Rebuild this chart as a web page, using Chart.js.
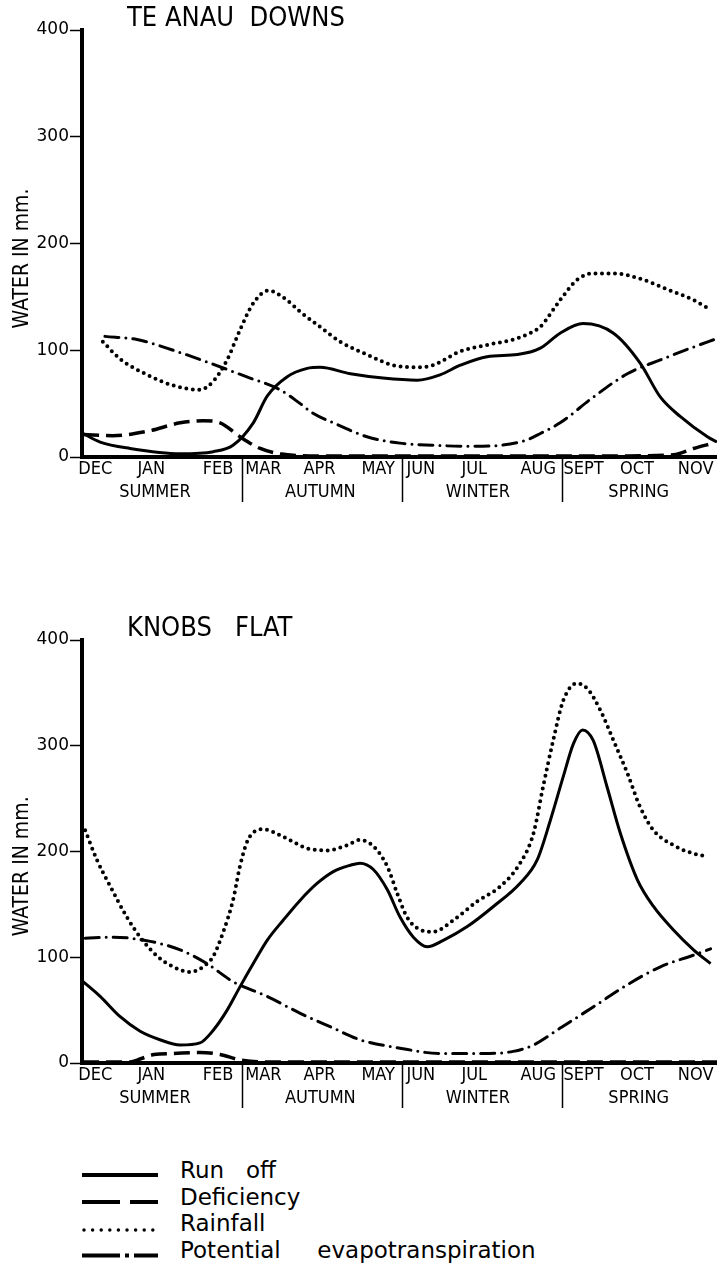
<!DOCTYPE html>
<html>
<head>
<meta charset="utf-8">
<script src="https://cdn.jsdelivr.net/npm/chart.js@4/dist/chart.umd.min.js"></script>
<style>
  body { margin: 0; background: #fff; }
  #page { position: relative; width: 717px; height: 1267px; overflow: hidden; background: #fff; }
  .box { position: absolute; left: 0; width: 717px; }
  #topBox { top: 0; height: 505px; }
  #bottomBox { top: 610px; height: 501px; }
  #legend { position: absolute; left: 80px; top: 1157px; font-family: "DejaVu Sans"; font-size: 23px; color: #000; }
  .row { display: flex; align-items: center; height: 26.5px; white-space: pre; }
  .row svg { margin-right: 20px; }
</style>
</head>
<body>
<div id="page">
  <div class="box" id="topBox"><canvas id="teAnau"></canvas></div>
  <div class="box" id="bottomBox"><canvas id="knobsFlat"></canvas></div>
  <div id="legend">
    <div class="row"><svg width="80" height="26"><line x1="2" y1="18" x2="78" y2="18" stroke="#000" stroke-width="4"/></svg>Run   off</div>
    <div class="row"><svg width="80" height="26"><line x1="2" y1="18" x2="78" y2="18" stroke="#000" stroke-width="4" stroke-dasharray="38 10 40"/></svg>Deficiency</div>
    <div class="row"><svg width="80" height="26"><line x1="4" y1="20" x2="78" y2="20" stroke="#000" stroke-width="3.5" stroke-linecap="round" stroke-dasharray="0 8.6"/></svg>Rainfall</div>
    <div class="row"><svg width="80" height="26"><line x1="2" y1="18.5" x2="78" y2="18.5" stroke="#000" stroke-width="4" stroke-dasharray="38 5 4 5 40"/></svg>Potential     evapotranspiration</div>
  </div>
</div>
<script>
// Axis labels (x values are in months from the start of December)
let months = ['DEC', 'JAN', 'FEB', 'MAR', 'APR', 'MAY', 'JUN', 'JUL', 'AUG', 'SEPT', 'OCT', 'NOV'];
let monthAt = [0.25, 1.3, 2.55, 3.4, 4.45, 5.55, 6.35, 7.35, 8.55, 9.4, 10.4, 11.5];
let seasons = ['SUMMER', 'AUTUMN', 'WINTER', 'SPRING'];
let seasonBreaks = [3, 6, 9];

// Te Anau Downs
let teRunoffX  = [0.02, 0.34, 0.9, 1.84, 2.46, 2.83, 3.21, 3.47, 3.84, 4.22, 4.46, 5.03, 5.64, 6.28, 6.71, 7.09, 7.59, 8.16, 8.59, 8.96, 9.39, 9.96, 10.46, 10.84, 11.21, 11.72, 11.9];
let teRunoffY  = [22, 14, 8, 3, 5, 11, 32, 57, 75, 83, 84, 78, 74, 72, 77, 86, 94, 96, 102, 116, 125, 116, 88, 56, 38, 19, 14];
let teDeficitX = [0.02, 0.58, 1.22, 1.84, 2.27, 2.59, 2.96, 3.34, 3.71, 4.5, 6, 8, 10, 11.08, 11.46, 11.83];
let teDeficitY = [21, 20, 24, 32, 34, 32, 19, 8, 3, 1, 1, 1, 1, 2, 8, 13];
let teRainX    = [0.39, 0.71, 1.22, 1.71, 2.21, 2.46, 2.72, 2.96, 3.21, 3.49, 3.84, 4.09, 4.46, 4.84, 5.34, 5.83, 6.34, 6.58, 7.09, 7.59, 8.08, 8.4, 8.59, 8.96, 9.28, 9.58, 9.96, 10.52, 10.97, 11.46, 11.74];
let teRainY    = [108, 92, 77, 67, 63, 71, 91, 119, 144, 156, 147, 136, 122, 108, 96, 86, 84, 86, 99, 105, 110, 116, 122, 147, 166, 172, 172, 166, 157, 147, 139];
let tePetX     = [0.43, 1.03, 1.71, 2.34, 3.09, 3.71, 4.09, 4.33, 4.71, 5.34, 5.96, 6.58, 7.22, 7.84, 8.34, 8.59, 8.96, 9.58, 10.22, 10.84, 11.46, 11.9];
let tePetY     = [113, 110, 100, 89, 75, 63, 50, 41, 32, 19, 13, 11, 10, 11, 16, 22, 32, 56, 78, 91, 103, 111];

// Knobs Flat
let kfRunoffX  = [0.02, 0.34, 0.71, 1.09, 1.46, 1.84, 2.21, 2.46, 2.72, 2.96, 3.21, 3.47, 3.77, 4.09, 4.41, 4.71, 5.03, 5.21, 5.46, 5.72, 5.96, 6.21, 6.47, 6.77, 7.22, 7.71, 8.21, 8.53, 8.78, 9.02, 9.21, 9.38, 9.58, 9.84, 10.09, 10.41, 10.71, 11.08, 11.46, 11.78];
let kfRunoffY  = [77, 63, 44, 30, 22, 17, 19, 31, 50, 72, 94, 116, 135, 154, 170, 181, 187, 189, 183, 164, 138, 119, 110, 116, 129, 148, 170, 192, 230, 271, 302, 315, 305, 261, 217, 173, 148, 126, 107, 94];
let kfDeficitX = [0.02, 0.9, 1.1, 1.35, 1.71, 2.21, 2.59, 2.96, 3.4, 6, 9, 11.9];
let kfDeficitY = [1, 1, 4, 8, 9, 10, 8, 3, 1, 1, 1, 1];
let kfRainX    = [0.06, 0.28, 0.53, 0.84, 1.09, 1.41, 1.71, 2.03, 2.27, 2.46, 2.64, 2.83, 2.96, 3.11, 3.39, 3.77, 4.22, 4.59, 4.97, 5.21, 5.46, 5.72, 5.91, 6.09, 6.34, 6.58, 6.96, 7.41, 7.84, 8.21, 8.46, 8.64, 8.83, 9.02, 9.28, 9.47, 9.71, 9.96, 10.22, 10.46, 10.71, 11.08, 11.46, 11.74];
let kfRainY    = [220, 192, 167, 138, 119, 101, 91, 86, 91, 101, 123, 154, 186, 211, 221, 214, 203, 201, 206, 211, 205, 186, 160, 138, 126, 124, 135, 153, 167, 189, 217, 261, 305, 343, 359, 354, 334, 305, 274, 242, 220, 206, 198, 195];
let kfPetX     = [0.06, 0.58, 1.28, 1.84, 2.34, 2.83, 3.47, 4.09, 4.71, 5.21, 5.96, 6.71, 7.52, 8.08, 8.46, 8.96, 9.58, 10.22, 10.84, 11.46, 11.78];
let kfPetY     = [118, 119, 115, 107, 94, 77, 63, 47, 33, 22, 14, 9, 9, 11, 17, 33, 53, 74, 91, 102, 108];

const points = (xs, ys) => xs.map((x, i) => ({x: x, y: ys[i]}));

// station name, y title, season row and separators
const decorations = {
    id: 'decorations',
    afterDraw(chart, args, opts) {
        const ctx = chart.ctx;
        const area = chart.chartArea;
        const xs = chart.scales.x;
        ctx.save();
        ctx.fillStyle = '#000';
        ctx.strokeStyle = '#000';
        ctx.textBaseline = 'middle';

        ctx.font = '27px "DejaVu Sans Condensed"';
        ctx.textAlign = 'left';
        ctx.fillText(opts.station, area.left + 45, area.top - 11);

        ctx.save();
        ctx.translate(23, area.top + area.height * 0.535);
        ctx.rotate(-Math.PI / 2);
        ctx.textAlign = 'center';
        ctx.font = '21px "DejaVu Sans Condensed"';
        ctx.fillText('WATER IN mm.', 0, 0);
        ctx.restore();

        ctx.lineWidth = 1.5;
        seasonBreaks.forEach(v => {
            const px = Math.round(xs.getPixelForValue(v)) + 0.5;
            ctx.beginPath();
            ctx.moveTo(px, area.bottom);
            ctx.lineTo(px, area.bottom + 45);
            ctx.stroke();
        });

        ctx.font = '18px "DejaVu Sans Condensed"';
        ctx.textAlign = 'center';
        seasons.forEach((s, i) => {
            const mid = (monthAt[i * 3] + monthAt[i * 3 + 1] + monthAt[i * 3 + 2]) / 3;
            ctx.fillText(s, xs.getPixelForValue(mid), area.bottom + 35);
        });
        ctx.restore();
    }
};

function makeChart(id, station, runoff, deficit, rain, pet) {
    const line = {
        borderColor: '#000',
        pointRadius: 0,
        fill: false,
        cubicInterpolationMode: 'monotone'
    };
    return new Chart(document.getElementById(id), {
        type: 'line',
        data: {
            datasets: [
                Object.assign({}, line, { label: 'Run off', data: runoff, borderWidth: 3 }),
                Object.assign({}, line, { label: 'Deficiency', data: deficit, borderWidth: 3.5, borderDash: [16, 7] }),
                Object.assign({}, line, { label: 'Rainfall', data: rain, borderWidth: 4, borderDash: [0, 6.5], borderCapStyle: 'round' }),
                Object.assign({}, line, { label: 'Potential evapotranspiration', data: pet, borderWidth: 3, borderDash: [14, 7, 0, 7], borderCapStyle: 'round' })
            ]
        },
        options: {
            responsive: true,
            maintainAspectRatio: false,
            animation: false,
            layout: { padding: { top: 30, right: 0, left: 0, bottom: 0 } },
            plugins: {
                legend: { display: false },
                tooltip: { enabled: false },
                decorations: { station: station }
            },
            scales: {
                x: {
                    type: 'linear',
                    min: 0,
                    max: 11.9,
                    afterBuildTicks: s => { s.ticks = monthAt.map(v => ({ value: v })); },
                    afterFit: s => { s.height = 48; },
                    grid: { display: true, drawOnChartArea: false, drawTicks: false },
                    border: { display: true, width: 4, color: '#000' },
                    ticks: {
                        autoSkip: false,
                        maxRotation: 0,
                        padding: 2,
                        color: '#000',
                        font: { family: 'DejaVu Sans Condensed', size: 18 },
                        callback: (v, i) => months[i]
                    }
                },
                y: {
                    min: 0,
                    max: 400,
                    afterFit: s => { s.width = 82; },
                    grid: { drawOnChartArea: false, tickLength: 12, tickWidth: 1.5, tickColor: '#000' },
                    border: { display: true, width: 4, color: '#000' },
                    ticks: { stepSize: 100, padding: 1, color: '#000', font: { family: 'DejaVu Sans', size: 17 } }
                }
            }
        },
        plugins: [decorations]
    });
}

makeChart('teAnau', 'TE ANAU  DOWNS',
    points(teRunoffX, teRunoffY), points(teDeficitX, teDeficitY),
    points(teRainX, teRainY), points(tePetX, tePetY));

makeChart('knobsFlat', 'KNOBS   FLAT',
    points(kfRunoffX, kfRunoffY), points(kfDeficitX, kfDeficitY),
    points(kfRainX, kfRainY), points(kfPetX, kfPetY));
</script>
</body>
</html>
